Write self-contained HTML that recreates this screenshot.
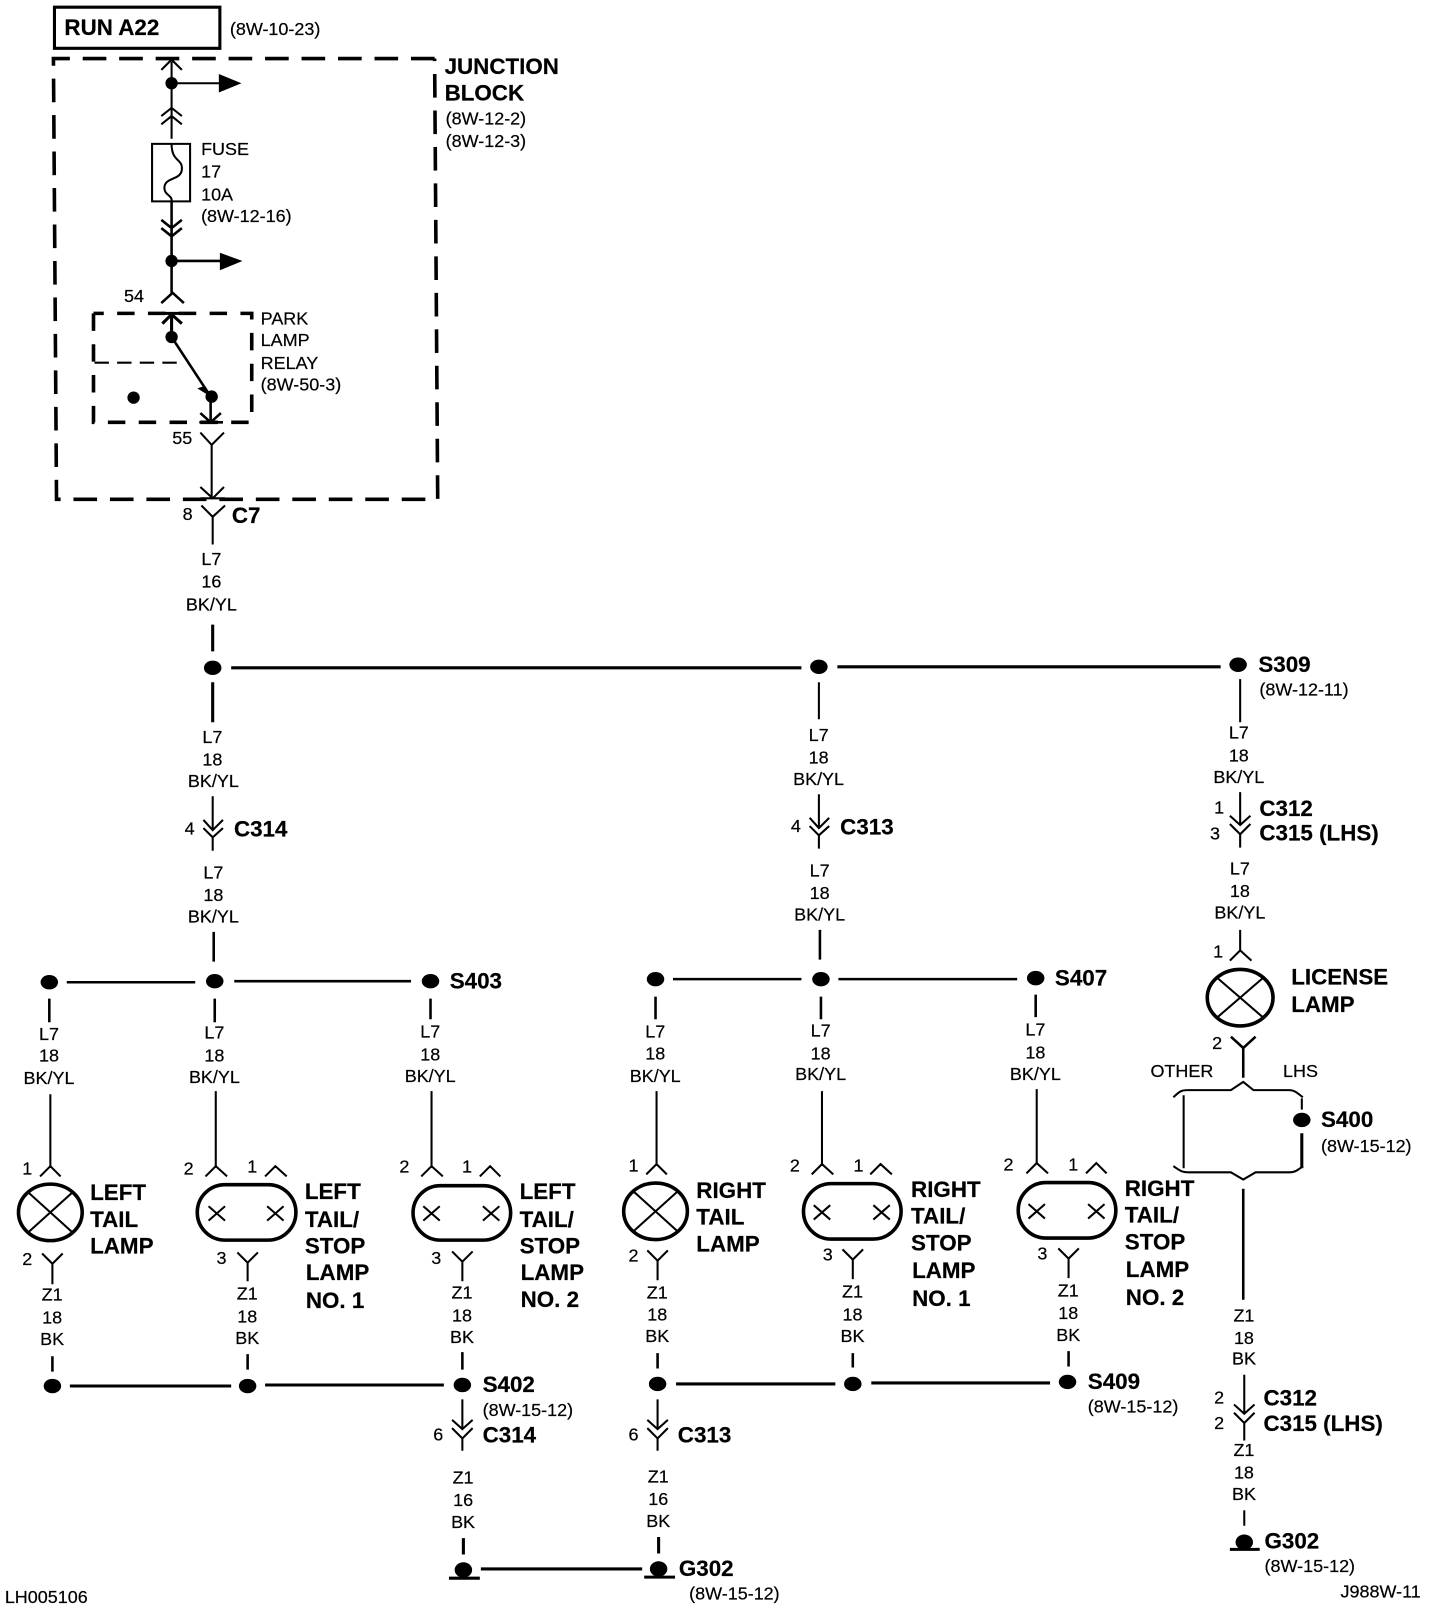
<!DOCTYPE html>
<html><head><meta charset="utf-8"><style>
html,body{margin:0;padding:0;background:#fff}
svg{display:block;width:1440px;height:1610px}
text{font-family:"Liberation Sans",sans-serif;fill:#000;stroke:#000;stroke-width:.2px;font-size:17.5px}
.b{font-weight:bold;font-size:21.8px}
.c{text-anchor:middle}
</style></head><body>
<svg viewBox="0 0 1401.5 1567" preserveAspectRatio="none" xmlns="http://www.w3.org/2000/svg">
<g fill="none" stroke="#000" stroke-width="3.5">
<path d="M53 7H214V47H53Z" stroke-width="3"/>
<path d="M423 57H52L55 486H426L423 57" stroke-dasharray="23 12.5"/>
<path d="M91 305V411H245V305H91" stroke-dasharray="17 13"/>
</g>
<g fill="none" stroke="#000" stroke-width="2" stroke-linecap="butt">
<!-- junction -->
<path d="M167 60V135M167 81H215M157 68L167 58L177 68M157 113L167 105L177 113M157 121L167 113L177 121" />
<path d="M148 140H185V196H148Z"/>
<path d="M167 140C167 158 178 154 177 165C176 176 160 172 160 183C160 190 168 190 167 196"/>
<path d="M167 196V285M167 254H215M157 214L167 222L177 214M157 222L167 230L177 222M157 295L168 285L179 295" stroke-width="2.5"/>
<path d="M158 305H178M158 315L167 306L177 315M167 305V328" stroke-width="3"/>
<path d="M167 328L205 386" stroke-width="2.5"/>
<path d="M92 353H178" stroke-dasharray="14 8"/>
<path d="M205 386V411M195 402L205 411L215 402M194 411H217" stroke-width="2.5"/>
<path d="M195 421L206 433L218 421M206 433V485M195 474L207 485L218 474M195 485H219"/>
<path d="M196 492L207 503L219 492M207 503V530"/>
<!-- main bus -->
<path d="M207 608V634M225 650H780M815 649H1188M207 664V703" stroke-width="3"/>
<path d="M797 664V700M1207 661V703"/>
<path d="M207 775V808M207 815V828M198 798L207 808L217 798M198 806L207 815L217 806" stroke-width="2"/>
<path d="M797 773V806M797 813V826M788 796L797 806L807 796M788 804L797 813L807 804" stroke-width="2"/>
<path d="M1207 771V803M1207 812V825M1197 794L1207 803L1217 794M1197 802L1207 812L1217 802" stroke-width="2"/>
<!-- second level -->
<path d="M208 907V936M65 956H190M228 955H400" stroke-width="2.5"/>
<path d="M798 905V934M655 953H780M816 953H990" stroke-width="2.5"/>
<path d="M48 972V995M209 972V995M419 972V992M638 970V992M799 970V992M1008 968V990" stroke-width="2.5"/>
<path d="M49 1065V1135M210 1062V1135M420 1062V1135M639 1062V1133M800 1062V1133M1009 1060V1132"/>
<path d="M39 1145L49 1135L59 1145M200 1145L210 1135L221 1145M258 1145L268 1135L279 1145M410 1145L420 1135L431 1145M467 1145L477 1135L487 1145M629 1143L639 1133L649 1143M790 1143L800 1133L811 1143M847 1143L857 1133L868 1143M999 1142L1009 1132L1020 1142M1057 1142L1067 1132L1077 1142"/>
<!-- lamps -->
<ellipse cx="49" cy="1180" rx="31" ry="27.5" stroke-width="3.5"/>
<path d="M28 1161L70 1199M70 1161L28 1199"/>
<ellipse cx="638" cy="1179" rx="31" ry="27.5" stroke-width="3.5"/>
<path d="M617 1160L659 1198M659 1160L617 1198"/>
<ellipse cx="1207" cy="971" rx="32" ry="27.5" stroke-width="3.5"/>
<path d="M1185 952L1229 990M1229 952L1185 990"/>
<rect x="192" y="1153" width="96" height="54" rx="27" stroke-width="3.5"/>
<rect x="402" y="1154" width="95" height="53" rx="26.5" stroke-width="3.5"/>
<rect x="782" y="1152" width="95" height="54" rx="27" stroke-width="3.5"/>
<rect x="991" y="1151" width="95" height="54" rx="27" stroke-width="3.5"/>
<path d="M203 1174L219 1188M219 1174L203 1188M260 1174L276 1188M276 1174L260 1188M412 1174L428 1188M428 1174L412 1188M470 1174L486 1188M486 1174L470 1188M792 1173L808 1187M808 1173L792 1187M850 1173L866 1187M866 1173L850 1187M1001 1172L1017 1186M1017 1172L1001 1186M1059 1172L1075 1186M1075 1172L1059 1186"/>
<!-- lower Y -->
<path d="M41 1220L51 1230L61 1220M51 1230V1250M231 1219L241 1229L251 1219M241 1229V1247M440 1218L450 1228L460 1218M450 1228V1247M630 1217L640 1227L650 1217M640 1227V1246M820 1216L830 1226L840 1216M830 1226V1245M1030 1215L1040 1225L1050 1215M1040 1225V1244"/>
<path d="M51 1320V1335M241 1318V1333M450 1316V1333M640 1317V1332M830 1317V1331M1040 1315V1330" stroke-width="2.5"/>
<path d="M68 1349H225M258 1348H432M658 1347H813M848 1346H1022" stroke-width="3"/>
<path d="M450 1362V1391M450 1400V1412M440 1382L450 1391L460 1382M440 1390L450 1400L460 1390M640 1362V1391M640 1400V1412M630 1382L640 1391L650 1382M630 1390L640 1400L650 1390" stroke-width="2"/>
<path d="M451 1497V1513M641 1496V1512M468 1527H625" stroke-width="3"/>
<path d="M437 1536H467M627 1535H657" stroke-width="3"/>
<!-- license -->
<path d="M1207 905V925M1197 935L1207 925L1218 935"/>
<path d="M1198 1009L1210 1020L1222 1009M1210 1020V1049" stroke-width="2.5"/>
<path d="M1142 1068C1148 1062 1150 1061 1156 1061H1198L1210 1053L1220 1061H1255C1260 1061 1263 1064 1268 1068"/>
<path d="M1152 1066V1137M1267 1069V1080"/>
<path d="M1267 1103V1137" stroke-width="3"/>
<path d="M1142 1135C1148 1139 1150 1141 1156 1141H1198L1210 1148L1222 1141H1255C1260 1141 1263 1139 1268 1135"/>
<path d="M1210 1157V1265" stroke-width="2.5"/>
<path d="M1211 1338V1376M1211 1385V1402M1201 1367L1211 1376L1221 1367M1201 1375L1211 1385L1221 1375" stroke-width="2"/>
<path d="M1211 1470V1485"/>
<path d="M1197 1508H1226" stroke-width="3"/>
</g>
<g fill="#000">
<path d="M213 72L235 81L213 90ZM214 246L236 254L214 263ZM198 376L205 386L192 378Z"/>
<circle cx="167" cy="81" r="6"/><circle cx="167" cy="254" r="6"/>
<circle cx="167" cy="328" r="6"/><circle cx="206" cy="386" r="6"/><circle cx="130" cy="387" r="6"/>
<ellipse cx="207" cy="650" rx="8.5" ry="7"/><ellipse cx="797" cy="649" rx="8.5" ry="7"/><ellipse cx="1205" cy="647" rx="8.5" ry="7"/>
<ellipse cx="48" cy="956" rx="8.5" ry="7"/><ellipse cx="209" cy="955" rx="8.5" ry="7"/><ellipse cx="419" cy="955" rx="8.5" ry="7"/>
<ellipse cx="638" cy="953" rx="8.5" ry="7"/><ellipse cx="799" cy="953" rx="8.5" ry="7"/><ellipse cx="1008" cy="952" rx="8.5" ry="7"/>
<ellipse cx="51" cy="1349" rx="8.5" ry="7"/><ellipse cx="241" cy="1349" rx="8.5" ry="7"/><ellipse cx="450" cy="1348" rx="8.5" ry="7"/>
<ellipse cx="640" cy="1347" rx="8.5" ry="7"/><ellipse cx="830" cy="1347" rx="8.5" ry="7"/><ellipse cx="1039" cy="1345" rx="8.5" ry="7"/>
<ellipse cx="1267" cy="1090" rx="8.5" ry="7"/>
<ellipse cx="451" cy="1528" rx="8.5" ry="7.5"/><ellipse cx="641" cy="1527" rx="8.5" ry="7.5"/><ellipse cx="1211" cy="1501" rx="8.5" ry="7.5"/>
</g>
<g transform="translate(-.3,-1)">
<!-- bold -->
<text class="b" x="63" y="35">RUN A22</text>
<text class="b" x="433" y="73">JUNCTION</text><text class="b" x="433" y="99">BLOCK</text>
<text class="b" x="226" y="510">C7</text>
<text class="b" x="1225" y="655">S309</text>
<text class="b" x="228" y="815">C314</text><text class="b" x="818" y="813">C313</text>
<text class="b" x="1226" y="795">C312</text><text class="b" x="1226" y="819">C315 (LHS)</text>
<text class="b" x="438" y="963">S403</text><text class="b" x="1027" y="960">S407</text>
<text class="b" x="1257" y="959">LICENSE</text><text class="b" x="1257" y="986">LAMP</text>
<text class="b" x="1286" y="1098">S400</text>
<text class="b" x="88" y="1169">LEFT</text><text class="b" x="88" y="1195">TAIL</text><text class="b" x="88" y="1221">LAMP</text>
<text class="b" x="297" y="1168">LEFT</text><text class="b" x="297" y="1195">TAIL/</text><text class="b" x="297" y="1221">STOP</text><text class="b" x="298" y="1247">LAMP</text><text class="b" x="298" y="1274">NO. 1</text>
<text class="b" x="506" y="1168">LEFT</text><text class="b" x="506" y="1195">TAIL/</text><text class="b" x="506" y="1221">STOP</text><text class="b" x="507" y="1247">LAMP</text><text class="b" x="507" y="1273">NO. 2</text>
<text class="b" x="678" y="1167">RIGHT</text><text class="b" x="678" y="1193">TAIL</text><text class="b" x="678" y="1219">LAMP</text>
<text class="b" x="887" y="1166">RIGHT</text><text class="b" x="887" y="1192">TAIL/</text><text class="b" x="887" y="1218">STOP</text><text class="b" x="888" y="1245">LAMP</text><text class="b" x="888" y="1272">NO. 1</text>
<text class="b" x="1095" y="1165">RIGHT</text><text class="b" x="1095" y="1191">TAIL/</text><text class="b" x="1095" y="1217">STOP</text><text class="b" x="1096" y="1244">LAMP</text><text class="b" x="1096" y="1271">NO. 2</text>
<text class="b" x="470" y="1356">S402</text><text class="b" x="470" y="1405">C314</text>
<text class="b" x="660" y="1405">C313</text><text class="b" x="1059" y="1353">S409</text>
<text class="b" x="1230" y="1369">C312</text><text class="b" x="1230" y="1394">C315 (LHS)</text>
<text class="b" x="661" y="1535">G302</text><text class="b" x="1231" y="1508">G302</text>
<!-- regular left aligned -->
<text x="224" y="35">(8W-10-23)</text>
<text x="434" y="122">(8W-12-2)</text><text x="434" y="144">(8W-12-3)</text>
<text x="196" y="152">FUSE</text><text x="196" y="174">17</text><text x="196" y="196">10A</text><text x="196" y="217">(8W-12-16)</text>
<text x="254" y="317">PARK</text><text x="254" y="338">LAMP</text><text x="254" y="360">RELAY</text><text x="254" y="381">(8W-50-3)</text>
<text x="121" y="295">54</text><text x="168" y="433">55</text><text x="178" y="507">8</text>
<text x="1226" y="678">(8W-12-11)</text>
<text x="180" y="813">4</text><text x="770" y="811">4</text>
<text x="1182" y="793">1</text><text x="1178" y="818">3</text>
<text x="1181" y="933">1</text><text x="1180" y="1022">2</text>
<text x="1120" y="1049">OTHER</text><text x="1249" y="1049">LHS</text>
<text x="1286" y="1122">(8W-15-12)</text>
<text x="22" y="1144">1</text><text x="179" y="1144">2</text><text x="241" y="1142">1</text><text x="389" y="1142">2</text><text x="450" y="1142">1</text>
<text x="612" y="1141">1</text><text x="769" y="1141">2</text><text x="831" y="1141">1</text><text x="977" y="1140">2</text><text x="1040" y="1140">1</text>
<text x="22" y="1232">2</text><text x="211" y="1231">3</text><text x="420" y="1231">3</text><text x="612" y="1229">2</text><text x="801" y="1228">3</text><text x="1010" y="1227">3</text>
<text x="470" y="1379">(8W-15-12)</text><text x="422" y="1403">6</text><text x="612" y="1403">6</text>
<text x="1059" y="1376">(8W-15-12)</text>
<text x="1182" y="1367">2</text><text x="1182" y="1392">2</text>
<text x="1231" y="1531">(8W-15-12)</text><text x="671" y="1558">(8W-15-12)</text>
<text x="5" y="1561">LH005106</text><text x="1305" y="1556">J988W-11</text>
<!-- wire labels -->
<g class="c" text-anchor="middle">
<text x="206" y="551">L7</text><text x="206" y="573">16</text><text x="206" y="595">BK/YL</text>
<text x="207" y="724">L7</text><text x="207" y="746">18</text><text x="208" y="767">BK/YL</text>
<text x="797" y="722">L7</text><text x="797" y="744">18</text><text x="797" y="765">BK/YL</text>
<text x="1206" y="720">L7</text><text x="1206" y="742">18</text><text x="1206" y="763">BK/YL</text>
<text x="208" y="856">L7</text><text x="208" y="878">18</text><text x="208" y="899">BK/YL</text>
<text x="798" y="854">L7</text><text x="798" y="876">18</text><text x="798" y="897">BK/YL</text>
<text x="1207" y="852">L7</text><text x="1207" y="874">18</text><text x="1207" y="895">BK/YL</text>
<text x="48" y="1013">L7</text><text x="48" y="1034">18</text><text x="48" y="1056">BK/YL</text>
<text x="209" y="1012">L7</text><text x="209" y="1034">18</text><text x="209" y="1055">BK/YL</text>
<text x="419" y="1011">L7</text><text x="419" y="1033">18</text><text x="419" y="1054">BK/YL</text>
<text x="638" y="1011">L7</text><text x="638" y="1032">18</text><text x="638" y="1054">BK/YL</text>
<text x="799" y="1010">L7</text><text x="799" y="1032">18</text><text x="799" y="1052">BK/YL</text>
<text x="1008" y="1009">L7</text><text x="1008" y="1031">18</text><text x="1008" y="1052">BK/YL</text>
<text x="51" y="1267">Z1</text><text x="51" y="1289">18</text><text x="51" y="1310">BK</text>
<text x="241" y="1266">Z1</text><text x="241" y="1288">18</text><text x="241" y="1309">BK</text>
<text x="450" y="1265">Z1</text><text x="450" y="1287">18</text><text x="450" y="1308">BK</text>
<text x="640" y="1265">Z1</text><text x="640" y="1286">18</text><text x="640" y="1307">BK</text>
<text x="830" y="1264">Z1</text><text x="830" y="1286">18</text><text x="830" y="1307">BK</text>
<text x="1040" y="1263">Z1</text><text x="1040" y="1285">18</text><text x="1040" y="1306">BK</text>
<text x="451" y="1445">Z1</text><text x="451" y="1467">16</text><text x="451" y="1488">BK</text>
<text x="641" y="1444">Z1</text><text x="641" y="1466">16</text><text x="641" y="1487">BK</text>
<text x="1211" y="1287">Z1</text><text x="1211" y="1309">18</text><text x="1211" y="1329">BK</text>
<text x="1211" y="1418">Z1</text><text x="1211" y="1440">18</text><text x="1211" y="1461">BK</text>
</g>
</g>
</svg>
</body></html>
